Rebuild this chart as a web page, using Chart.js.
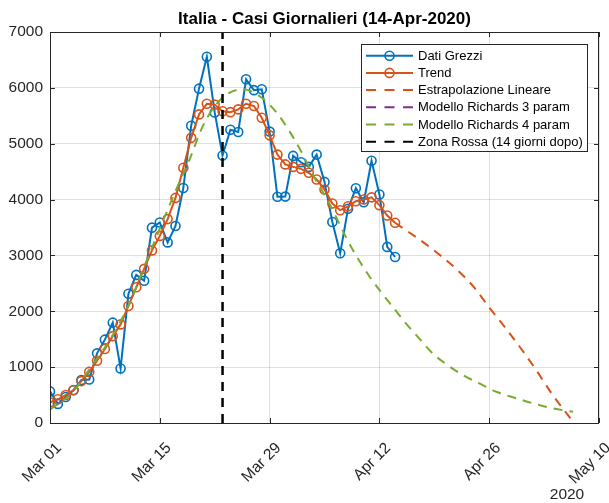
<!DOCTYPE html>
<html><head><meta charset="utf-8">
<script src="https://cdn.jsdelivr.net/npm/chart.js@4.4.1/dist/chart.umd.min.js"></script>
<style>html,body{margin:0;padding:0;background:#fff}#wrap{width:609px;height:503px}</style>
</head><body><div id="wrap"><canvas id="c" width="609" height="503"></canvas></div>
<script>
// ---- data ----
const titleText = 'Italia - Casi Giornalieri (14-Apr-2020)';
const yearLabel = '2020';
const tickLabels = ['Mar 01', 'Mar 15', 'Mar 29', 'Apr 12', 'Apr 26', 'May 10'];
const tickDays = [0, 14, 28, 42, 56, 70];          // days since 01-Mar-2020
const yTicks = [0, 1000, 2000, 3000, 4000, 5000, 6000, 7000];
const zonaRossaDay = 22;                            // 23-Mar (9-Mar + 14)
const seriesLabels = ['Dati Grezzi', 'Trend', 'Estrapolazione Lineare', 'Modello Richards 3 param', 'Modello Richards 4 param', 'Zona Rossa (14 giorni dopo)'];

// daily new cases, 01-Mar .. 14-Apr
const rawCases = [566, 342, 466, 587, 769, 778, 1247, 1492, 1797, 977, 2313, 2651, 2547, 3497, 3590, 3233, 3526, 4207, 5322, 5986, 6557, 5560, 4789, 5249, 5210, 6153, 5959, 5974, 5217, 4050, 4053, 4782, 4668, 4585, 4805, 4316, 3599, 3039, 3836, 4204, 3951, 4694, 4092, 3153, 2972];
const trendValues = [370, 425, 500, 590, 750, 915, 1115, 1325, 1555, 1765, 2095, 2430, 2760, 3090, 3350, 3650, 4030, 4570, 5105, 5525, 5715, 5700, 5580, 5565, 5615, 5715, 5675, 5465, 5150, 4805, 4630, 4585, 4550, 4480, 4360, 4180, 3930, 3810, 3880, 3970, 4000, 4040, 3900, 3715, 3585];

const extrapDays   = [44, 46, 48, 50, 52, 54, 56, 58, 60, 62, 64, 66, 66.6];
const extrapValues = [3585, 3393, 3194, 2975, 2732, 2440, 2070, 1716, 1343, 946, 521, 148, 40];

const richards4Days   = [0, 3, 5.5, 7.6, 10.1, 12, 14, 16, 17.8, 19.5, 21, 22.5, 24.6, 26.7, 28.9, 30.5, 32.2, 33.5, 35.5, 38.4, 40.8, 42.2, 43.9, 45.4, 47.1, 48.8, 50.7, 52.7, 54.8, 56.9, 59.5, 62, 64.1, 66.7];
const richards4Values = [240, 570, 1060, 1480, 2130, 2790, 3480, 4150, 4720, 5320, 5670, 5880, 5975, 5855, 5555, 5230, 4815, 4450, 3960, 3150, 2610, 2345, 2045, 1780, 1510, 1245, 1035, 855, 705, 560, 440, 335, 262, 200];
const richards3Values = [];   // not visible in the reference

const colors = ['#0072BD', '#D95319', '#D95319', '#7E2F8E', '#77AC30', '#000000'];

// ---- build ----
const pts = (xs, ys) => ys.map((v, i) => ({x: xs[i], y: v}));
const idx = rawCases.map((_, i) => i);
const FONT = '"Liberation Sans", Arial, Helvetica, sans-serif';
const TXT = '#262626';
const DASH = [9, 7];

const datasets = [
  {label: seriesLabels[0], data: pts(idx, rawCases), borderColor: colors[0], borderWidth: 2, pointRadius: 4.5, pointBorderWidth: 1.6, pointBackgroundColor: 'rgba(0,0,0,0)', pointBorderColor: colors[0], order: 6},
  {label: seriesLabels[1], data: pts(idx, trendValues), borderColor: colors[1], borderWidth: 2, pointRadius: 4.5, pointBorderWidth: 1.6, pointBackgroundColor: 'rgba(0,0,0,0)', pointBorderColor: colors[1], order: 5},
  {label: seriesLabels[2], data: pts(extrapDays, extrapValues), borderColor: colors[2], borderWidth: 2, borderDash: DASH, pointRadius: 0, cubicInterpolationMode: 'monotone', order: 4},
  {label: seriesLabels[3], data: richards3Values, borderColor: colors[3], borderWidth: 2, borderDash: DASH, pointRadius: 0, order: 3},
  {label: seriesLabels[4], data: pts(richards4Days, richards4Values), borderColor: colors[4], borderWidth: 2, borderDash: DASH, pointRadius: 0, cubicInterpolationMode: 'monotone', order: 2},
  {label: seriesLabels[5], data: [{x: zonaRossaDay, y: yTicks[0]}, {x: zonaRossaDay, y: yTicks[yTicks.length - 1]}], borderColor: colors[5], borderWidth: 2.5, borderDash: DASH, pointRadius: 0, order: 1}
];

const matlabPlugin = {
  id: 'matlab',
  afterDatasetsDraw(chart) {
    const {ctx, chartArea: {left, right, top, bottom}, scales: {x, y}} = chart;
    ctx.save();
    ctx.strokeStyle = TXT; ctx.lineWidth = 1; ctx.setLineDash([]);
    ctx.strokeRect(left + 0.5, top + 0.5, right - left - 1, bottom - top);
    ctx.beginPath();
    tickDays.forEach(d => {
      const px = Math.round(x.getPixelForValue(d)) + 0.5;
      ctx.moveTo(px, bottom); ctx.lineTo(px, bottom - 5);
      ctx.moveTo(px, top); ctx.lineTo(px, top + 5);
    });
    yTicks.forEach(v => {
      const py = Math.round(y.getPixelForValue(v)) + 0.5;
      ctx.moveTo(left, py); ctx.lineTo(left + 5, py);
      ctx.moveTo(right, py); ctx.lineTo(right - 5, py);
    });
    ctx.stroke();
    ctx.restore();
  },
  afterDraw(chart) {
    const {ctx, chartArea: {left, right}} = chart;
    ctx.save();
    // title
    ctx.fillStyle = '#000';
    ctx.font = 'bold 17px ' + FONT;
    ctx.textAlign = 'center'; ctx.textBaseline = 'alphabetic';
    ctx.fillText(titleText, (left + right) / 2, 24);
    // year label
    ctx.fillStyle = TXT;
    ctx.font = '15.5px ' + FONT;
    ctx.fillText(yearLabel, 567, 499);
    // legend
    const x0 = 361.5, y0 = 44.5, w = 226, h = 107;
    ctx.fillStyle = '#fff'; ctx.fillRect(x0, y0, w, h);
    ctx.strokeStyle = TXT; ctx.lineWidth = 1; ctx.strokeRect(x0, y0, w, h);
    chart.data.datasets.forEach((ds, i) => {
      const yy = 55.7 + i * 17.2;
      ctx.strokeStyle = ds.borderColor; ctx.lineWidth = 2;
      ctx.setLineDash(ds.borderDash ? [10, 8.5] : []);
      ctx.beginPath(); ctx.moveTo(366, yy); ctx.lineTo(413, yy); ctx.stroke();
      ctx.setLineDash([]);
      if (ds.pointRadius > 0) {
        ctx.lineWidth = 1.6;
        ctx.beginPath(); ctx.arc(389.5, yy, 4.5, 0, 2 * Math.PI); ctx.stroke();
      }
      ctx.fillStyle = '#000';
      ctx.font = '13px ' + FONT;
      ctx.textAlign = 'left'; ctx.textBaseline = 'middle';
      ctx.fillText(ds.label, 418, yy + 0.5);
    });
    ctx.restore();
  }
};

new Chart(document.getElementById('c'), {
  type: 'line',
  data: {datasets},
  options: {
    responsive: false, animation: false, devicePixelRatio: 1,
    layout: {padding: {top: 32, right: 10, left: 0, bottom: 0}},
    plugins: {legend: {display: false}, title: {display: false}, tooltip: {enabled: false}},
    elements: {line: {tension: 0}},
    scales: {
      x: {
        type: 'linear', min: tickDays[0], max: tickDays[tickDays.length - 1],
        afterBuildTicks: s => { s.ticks = tickDays.map(v => ({value: v})); },
        afterFit: s => { s.height = 80; s.paddingLeft = 0; s.paddingRight = 0; },
        ticks: {callback: v => tickLabels[tickDays.indexOf(v)], minRotation: 45, maxRotation: 45, autoSkip: false, color: TXT, font: {family: FONT, size: 15.5}, padding: 16, labelOffset: 9},
        grid: {color: 'rgba(38,38,38,0.15)', drawTicks: false},
        border: {display: false}
      },
      y: {
        type: 'linear', min: yTicks[0], max: yTicks[yTicks.length - 1],
        afterBuildTicks: s => { s.ticks = yTicks.map(v => ({value: v})); },
        afterFit: s => { s.width = 50; s.paddingTop = 0; s.paddingBottom = 0; },
        ticks: {callback: v => String(v), color: TXT, font: {family: FONT, size: 15.5}, padding: 7},
        grid: {color: 'rgba(38,38,38,0.15)', drawTicks: false},
        border: {display: false}
      }
    }
  },
  plugins: [matlabPlugin]
});
</script></body></html>
